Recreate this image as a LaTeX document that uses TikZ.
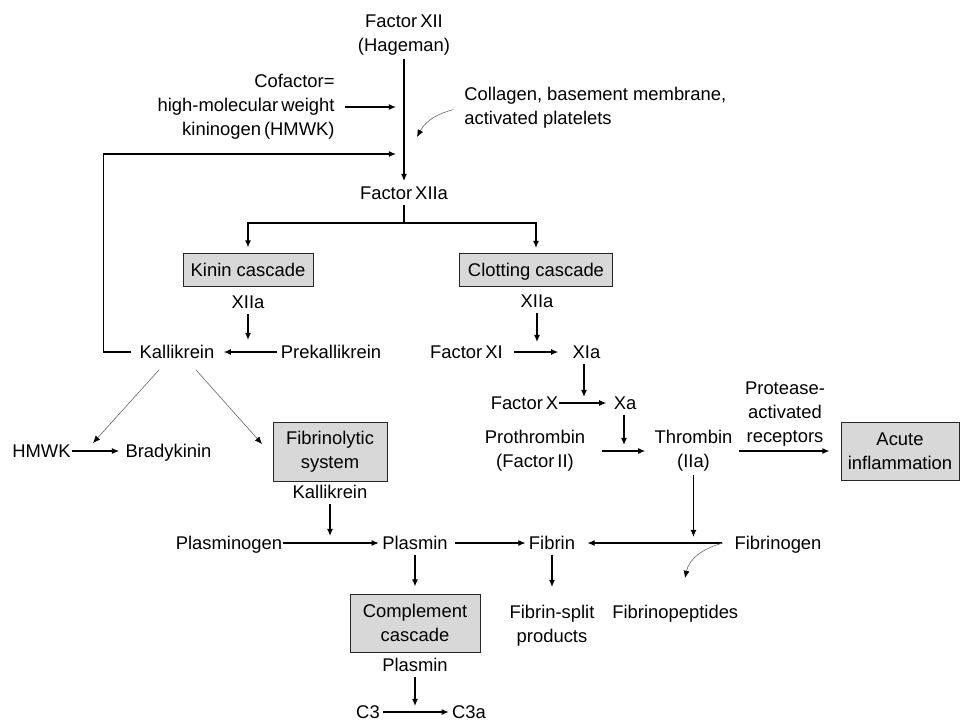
\documentclass[tikz,border=0pt]{standalone}
\usepackage{fontspec}
\setmainfont{Liberation Sans}
\usetikzlibrary{arrows.meta}
\definecolor{boxgray}{RGB}{216,216,216}
\begin{document}
\begin{tikzpicture}[x=0.5pt,y=-0.5pt,
  every node/.style={font=\fontsize{9.2pt}{12pt}\selectfont},
  lbl/.style={inner sep=1.5pt, align=center},
  one/.style={text height=7.5pt, text depth=1pt},
  gbox/.style={draw=black!85, fill=boxgray, line width=0.5pt, align=center, inner sep=0pt},
  ln/.style={line width=0.6pt},
  arr/.style={line width=0.6pt, -{Latex[length=3.6pt,width=3pt]}},
  garr/.style={line width=0.3pt, draw=black!60, -{Latex[length=3.6pt,width=3pt,color=black]}}
]
\useasboundingbox (0,0) rectangle (960,720);

% top
\node[lbl] (fxii) at (404,35) {Factor\,XII\\(Hageman)};
\node[lbl, one] (fxiia) at (404,193) {Factor\,XIIa};
\node[lbl, align=right, anchor=east] (cof) at (338,107) {Cofactor=\\high-molecular\,weight\\kininogen\,(HMWK)};
\node[lbl, align=left, anchor=west] (col) at (461,107.5) {Collagen, basement membrane,\\activated platelets};
\coordinate (jcof) at (396,107);
\coordinate (jfb) at (396,154);
\coordinate (colend) at (417,137);
\coordinate (split) at (404,223);

\draw[arr] (fxii) -- (fxiia);
\draw[arr, shorten <=3.5pt] (cof.east) -- (jcof);
\draw[garr, shorten <=4pt] (col.west) to[out=195,in=62] (colend);

% boxes
\node[gbox, one, minimum width=65pt, minimum height=16.5pt] (kinin) at (248,269.5) {Kinin cascade};
\node[gbox, one, minimum width=76.5pt, minimum height=16.5pt] (clot) at (536,270) {Clotting cascade};
\draw[ln] (fxiia) -- (split);
\draw[arr, shorten >=2.5pt] (split) -| (kinin);
\draw[arr, shorten >=2.5pt] (split) -| (clot);

% kinin branch
\node[lbl, one] (xiia1) at (248,302) {XIIa};
\node[lbl, one] (kal) at (177,352) {Kallikrein};
\node[lbl, one] (prek) at (331,352) {Prekallikrein};
\coordinate (kj) at (248,340);
\draw[arr] (xiia1) -- (kj);
\draw[arr, shorten >=3pt] (prek) -- (kal);
\draw[arr, shorten <=2.5pt] (kal.west) -- ++(-33,0) |- (jfb);

\node[lbl, one] (hmwk) at (41.5,451) {HMWK};
\node[lbl, one] (brady) at (168.5,451) {Bradykinin};
\draw[arr, shorten <=-1pt, shorten >=1.5pt] (hmwk) -- (brady);
\coordinate (kb) at (93,443);
\coordinate (kf) at (262,444);
\draw[garr] ([xshift=-9pt,yshift=-3pt]kal.south) -- (kb);
\draw[garr] ([xshift=9.5pt,yshift=-3pt]kal.south) -- (kf);

\node[gbox, minimum width=57pt, minimum height=29.5pt] (fib) at (330,451.5) {Fibrinolytic\\system};
\node[lbl, one] (kal2) at (330,492) {Kallikrein};
\coordinate (pj) at (330,536);
\draw[arr] (kal2) -- (pj);

\node[inner sep=0pt, one] (plg) at (229,543) {Plasminogen};
\node[lbl, one] (plasmin) at (415,543) {Plasmin};
\node[lbl, one] (fibrin) at (552,543) {Fibrin};
\node[lbl, one] (fibrinogen) at (778,543) {Fibrinogen};
\coordinate (fgj) at (723,543);
\draw[arr] (plg) -- (plasmin);
\draw[arr, shorten <=2pt] (plasmin) -- (fibrin);
\draw[arr, shorten <=4.5pt, shorten >=4.5pt] (fibrinogen) -- (fibrin);
\coordinate (fpe) at (685,578);
\draw[garr] (fgj) to[out=195,in=78] (fpe);

\node[gbox, minimum width=65pt, minimum height=29pt] (comp) at (415,623) {Complement\\cascade};
\node[lbl] (fsp) at (552,626) {Fibrin-split\\products};
\node[lbl, one, anchor=west] (fpep) at (609,612) {Fibrinopeptides};
\draw[arr, shorten >=3.5pt] (plasmin) -- (comp);
\coordinate (fj) at (552,587);
\draw[arr] (fibrin) -- (fj);

\node[lbl, one] (plasmin2) at (415,665) {Plasmin};
\coordinate (cj) at (415,706);
\draw[arr] (plasmin2) -- (cj);
\node[lbl, one] (c3) at (368,712) {C3};
\node[lbl, one] (c3a) at (469,712) {C3a};
\draw[arr] (c3) -- (c3a);

% clotting branch
\node[lbl, one] (xiia2) at (537,301) {XIIa};
\coordinate (xj) at (537,342);
\draw[arr] (xiia2) -- (xj);
\node[lbl, one] (fxi) at (466.5,352) {Factor\,XI};
\node[lbl, one] (xia) at (586.5,352) {XIa};
\draw[arr, shorten <=4pt, shorten >=5.5pt] (fxi) -- (xia);
\coordinate (xaj) at (584,397);
\draw[arr] (xia.south -| xaj) -- (xaj);
\node[inner sep=0pt, one] (fx) at (524.5,403) {Factor\,X};
\node[lbl, one] (xa) at (625,403) {Xa};
\draw[arr, shorten >=2pt] (fx) -- (xa);
\coordinate (tj2) at (624,445);
\draw[arr] (xa.south -| tj2) -- (tj2);

\node[lbl] (pro) at (535,451) {Prothrombin\\(Factor\,II)};
\node[lbl] (thr) at (693.5,451) {Thrombin\\(IIa)};
\draw[arr, shorten <=6.5pt, shorten >=3pt] (pro) -- (thr);
\node[lbl] (par) at (785,414) {Protease-\\activated\\receptors};
\node[gbox, minimum width=59pt, minimum height=29pt] (acute) at (900,451) {Acute\\inflammation};
\draw[arr, shorten <=1.5pt, shorten >=5.5pt] (thr) -- (acute);
\coordinate (tj) at (693.5,537);
\draw[arr] (thr) -- (tj);
\end{tikzpicture}
\end{document}
